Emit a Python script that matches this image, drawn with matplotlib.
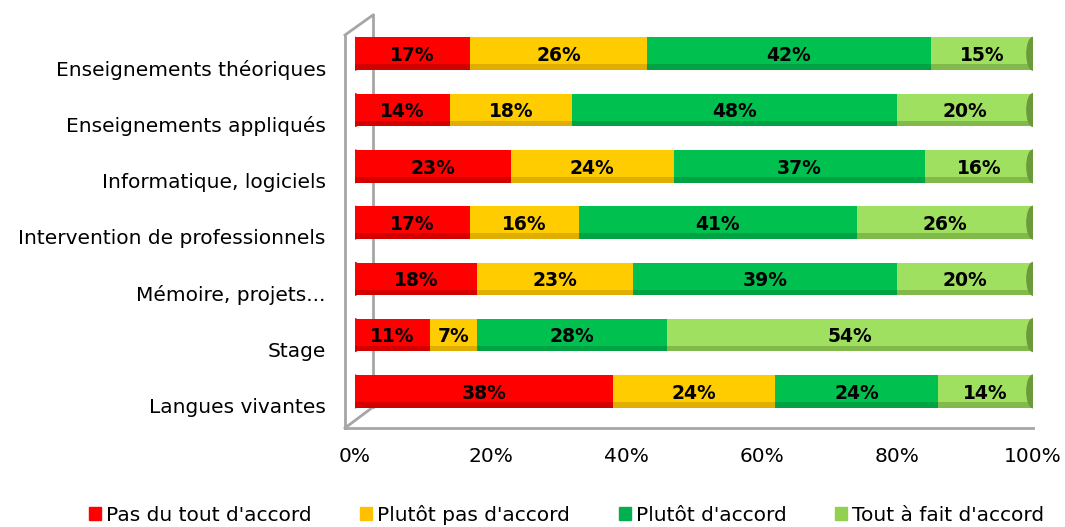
import matplotlib
matplotlib.use('Agg')
import matplotlib.pyplot as plt
from matplotlib.patches import Ellipse, Patch
from matplotlib.lines import Line2D
import numpy as np

# Données
categories = ['Enseignements théoriques', 'Enseignements appliqués', 'Informatique, logiciels',
              'Intervention de professionnels', 'Mémoire, projets...', 'Stage', 'Langues vivantes']
pas_du_tout = [17, 14, 23, 17, 18, 11, 38]
plutot_pas = [26, 18, 24, 16, 23, 7, 24]
plutot_accord = [42, 48, 37, 41, 39, 28, 24]
tout_a_fait = [15, 20, 16, 26, 20, 54, 14]

series = [pas_du_tout, plutot_pas, plutot_accord, tout_a_fait]
labels = ["Pas du tout d'accord", "Plutôt pas d'accord", "Plutôt d'accord", "Tout à fait d'accord"]
colors = ['#FF0000', '#FFCC00', '#00C050', '#9FE060']
edge_colors = ['#B00000', '#C89600', '#008A3A', '#6A9A3A']
legend_colors = ['#FF0000', '#FFC000', '#00B050', '#92D050']

plt.rcParams['font.family'] = ['DejaVu Sans']

W, H = 1065, 527
fig = plt.figure(figsize=(W / 100, H / 100), dpi=100)
ax = fig.add_axes([355 / W, 1 - 428 / H, 678 / W, 408 / H])
ax.set_facecolor('none')

y = np.arange(len(categories))[::-1]
left = np.zeros(len(categories))
h = 0.58
for vals, c, ec in zip(series, colors, edge_colors):
    vals = np.array(vals, dtype=float)
    ax.barh(y, vals, left=left, height=h, color=c, edgecolor='none', zorder=3)
    # ombre en bas pour l'effet cylindre
    ax.barh(y - h / 2 + 0.05, vals, left=left, height=0.1, color=ec, alpha=0.55,
            edgecolor='none', zorder=3)
    for yi, l, v in zip(y, left, vals):
        ax.text(l + v / 2, yi - 0.03, f'{int(v)}%', ha='center', va='center',
                fontsize=13.5, fontweight='bold', color='black', zorder=5)
    left += vals

# extrémités des cylindres
for yi in y:
    ax.add_patch(Ellipse((0, yi), 1.8, h, color=colors[0], zorder=2))
    ax.add_patch(Ellipse((100, yi), 1.8, h, color=edge_colors[3], zorder=4))

ax.set_xlim(0, 100)
ax.set_ylim(-0.65, 6.6)
ax.set_xticks([0, 20, 40, 60, 80, 100])
ax.set_xticklabels(['0%', '20%', '40%', '60%', '80%', '100%'], fontsize=14.5)
ax.set_yticks(y - 0.25)
ax.set_yticklabels(categories, fontsize=14.5)
ax.tick_params(axis='both', length=0)
ax.tick_params(axis='x', pad=14)
ax.tick_params(axis='y', pad=21)
for s in ax.spines.values():
    s.set_visible(False)

# cadre 3D simplifié (pixels de la figure)
gray = '#A6A6A6'
frame = [((345, 35), (345, 428)), ((373, 15), (373, 407)), ((345, 35), (373, 15)),
         ((345, 428), (373, 407)), ((345, 428), (1033, 428))]
for (x0, y0), (x1, y1) in frame:
    fig.add_artist(Line2D([x0 / W, x1 / W], [1 - y0 / H, 1 - y1 / H], color=gray, lw=2,
                          transform=fig.transFigure, zorder=0))

handles = [Patch(color=c) for c in legend_colors]
fig.legend(handles, labels, loc='lower center', ncol=4, frameon=False, fontsize=14.5,
           bbox_to_anchor=(0.532, -0.03), handlelength=0.6, handleheight=0.6,
           handletextpad=0.25, columnspacing=2.4)

plt.savefig('out.png', dpi=100)
